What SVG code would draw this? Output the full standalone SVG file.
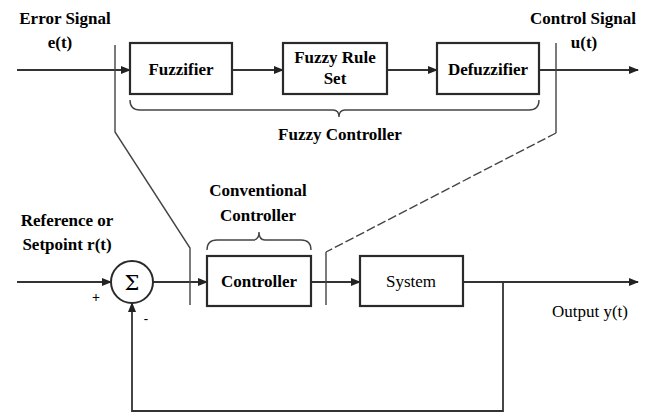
<svg xmlns="http://www.w3.org/2000/svg" width="656" height="416" viewBox="0 0 656 416">
<defs>
<marker id="ah" markerWidth="10" markerHeight="8" refX="9" refY="4" orient="auto" markerUnits="userSpaceOnUse">
<path d="M0,0 L10,4 L0,8 Z" fill="#222"/>
</marker>
<style>
.box{fill:#fff;stroke:#2a2a2a;stroke-width:2.2}
.ln{fill:none;stroke:#333;stroke-width:1.8}
.thin{fill:none;stroke:#444;stroke-width:1.4}
.dash{fill:none;stroke:#444;stroke-width:1.4;stroke-dasharray:9 3}
</style>
</defs>
<rect width="656" height="416" fill="#fff"/>
<g id="connectors">
<path class="ln" d="M17,70 L130,70" marker-end="url(#ah)"/>
<path class="ln" d="M232,70 L283,70" marker-end="url(#ah)"/>
<path class="ln" d="M387,70 L437,70" marker-end="url(#ah)"/>
<path class="ln" d="M539,70 L638,70" marker-end="url(#ah)"/>
<path class="ln" d="M17,282 L111,282" marker-end="url(#ah)"/>
<path class="ln" d="M153,282 L207,282" marker-end="url(#ah)"/>
<path class="ln" d="M311,282 L360,282" marker-end="url(#ah)"/>
<path class="ln" d="M463,282 L638,282" marker-end="url(#ah)"/>
<path class="ln" d="M503,282 L503,411 L132,411 L132,303" marker-end="url(#ah)"/>
<path class="thin" d="M115,45 L115,132 L190,248 L190,305"/>
<path class="thin" d="M556,43 L556,133"/>
<path class="dash" d="M556,133 L326,252"/>
<path class="thin" d="M326,252 L326,305"/>
<path class="thin" d="M130,100 Q130,110 140,110 L333,110 Q339,110 339,117 Q339,110 345,110 L529,110 Q539,110 539,100"/>
<path class="thin" d="M207,250 Q207,240 217,240 L253,240 Q259,240 259,232 Q259,240 265,240 L301,240 Q311,240 311,250"/>
</g>
<g id="fuzzifier">
<rect class="box" x="130" y="43" width="102" height="51"/>
<text x="181" y="75" font-family="Liberation Serif" font-size="17" font-weight="bold" text-anchor="middle">Fuzzifier</text>
</g>
<g id="rule-set">
<rect class="box" x="283" y="43" width="104" height="51"/>
<text x="335" y="63" font-family="Liberation Serif" font-size="17" font-weight="bold" text-anchor="middle">Fuzzy Rule</text>
<text x="335" y="84" font-family="Liberation Serif" font-size="17" font-weight="bold" text-anchor="middle">Set</text>
</g>
<g id="defuzzifier">
<rect class="box" x="437" y="43" width="102" height="51"/>
<text x="488" y="75" font-family="Liberation Serif" font-size="17" font-weight="bold" text-anchor="middle">Defuzzifier</text>
</g>
<g id="sum">
<circle cx="132" cy="282" r="21" fill="#fff" stroke="#2a2a2a" stroke-width="2"/>
<text x="132" y="290" font-family="DejaVu Serif" font-size="21" text-anchor="middle">Σ</text>
<text x="96" y="302" font-family="Liberation Serif" font-size="14" font-weight="bold" text-anchor="middle">+</text>
<text x="146" y="323" font-family="Liberation Serif" font-size="13" font-weight="bold" text-anchor="middle">-</text>
</g>
<g id="controller">
<rect class="box" x="207" y="256" width="104" height="50"/>
<text x="259" y="287" font-family="Liberation Serif" font-size="17" font-weight="bold" text-anchor="middle">Controller</text>
</g>
<g id="system">
<rect class="box" x="360" y="256" width="103" height="50"/>
<text x="411" y="287" font-family="Liberation Serif" font-size="17" text-anchor="middle">System</text>
</g>
<g id="labels">
<text x="65" y="24" font-family="Liberation Serif" font-size="17" font-weight="bold" text-anchor="middle">Error Signal</text>
<text x="60" y="48" font-family="Liberation Serif" font-size="17" font-weight="bold" text-anchor="middle">e(t)</text>
<text x="583" y="24" font-family="Liberation Serif" font-size="17" font-weight="bold" text-anchor="middle">Control Signal</text>
<text x="584" y="48" font-family="Liberation Serif" font-size="17" font-weight="bold" text-anchor="middle">u(t)</text>
<text x="340" y="140" font-family="Liberation Serif" font-size="17" font-weight="bold" text-anchor="middle">Fuzzy Controller</text>
<text x="258" y="196" font-family="Liberation Serif" font-size="17" font-weight="bold" text-anchor="middle">Conventional</text>
<text x="258" y="221" font-family="Liberation Serif" font-size="17" font-weight="bold" text-anchor="middle">Controller</text>
<text x="67" y="226" font-family="Liberation Serif" font-size="17" font-weight="bold" text-anchor="middle">Reference or</text>
<text x="67" y="250" font-family="Liberation Serif" font-size="17" font-weight="bold" text-anchor="middle">Setpoint r(t)</text>
<text x="590" y="317" font-family="Liberation Serif" font-size="17" text-anchor="middle">Output y(t)</text>
</g>
</svg>
